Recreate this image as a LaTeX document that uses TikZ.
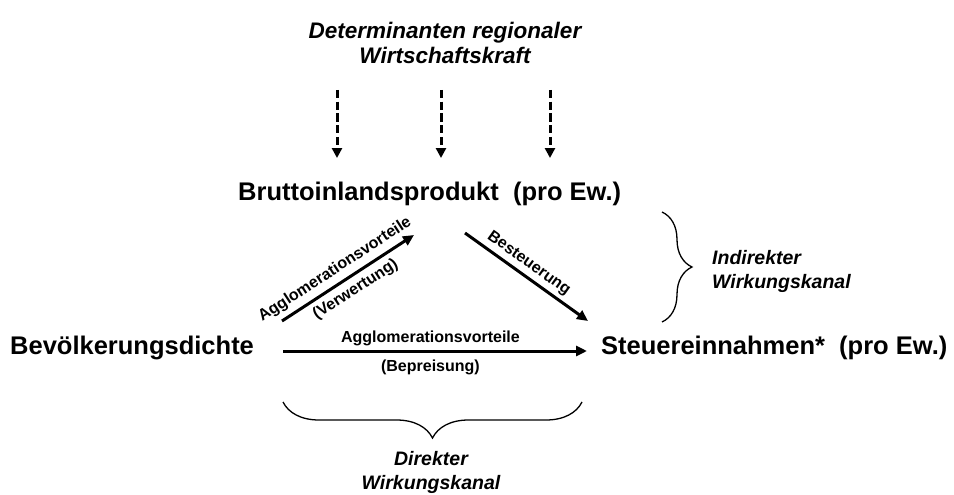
\documentclass[tikz,border=0pt]{standalone}
\usepackage{fontspec}
\setmainfont{Liberation Sans}
\usetikzlibrary{arrows.meta,decorations.pathreplacing}
\begin{document}
\begin{tikzpicture}[x=1pt,y=-1pt,
  big/.style={font=\fontsize{25.5}{30}\selectfont\bfseries, inner sep=0pt},
  lbl/.style={font=\fontsize{16}{19}\selectfont\bfseries, inner sep=0pt},
  ital/.style={font=\fontsize{19.5}{24}\selectfont\bfseries\itshape, inner sep=0pt},
  ttl/.style={font=\fontsize{22.5}{25}\selectfont\bfseries\itshape, inner sep=0pt},
  arr/.style={line width=3pt, -{Triangle[length=11pt,width=10pt]}},
  darr/.style={line width=3pt, dash pattern=on 8.3pt off 3.4pt, -{Triangle[length=10pt,width=10pt]}},
  brc/.style={line width=1.3pt, decorate, decoration={brace, amplitude=#1}}]
\useasboundingbox (0,0) rectangle (954,495);

% texts
\node[ttl, anchor=north, align=center] (title) at (445,22) {Determinanten regionaler\\Wirtschaftskraft};
\node[big, anchor=base west] (bip) at (238,200) {Bruttoinlandsprodukt\ \ (pro Ew.)};
\node[big, anchor=base west] (bev) at (10,354) {Bevölkerungsdichte};
\node[big, anchor=base west] (st) at (601,354) {Steuereinnahmen*\ \ (pro Ew.)};
\node[ital, anchor=north west, align=left] (ind) at (712,250) {Indirekter\\Wirkungskanal};
\node[ital, anchor=north, align=center] (dir) at (431,451) {Direkter\\Wirkungskanal};

% dashed arrows
\coordinate (d1s) at (337,90);  \coordinate (d1e) at (337,158);
\coordinate (d2s) at (441,90);  \coordinate (d2e) at (441,158);
\coordinate (d3s) at (550,90);  \coordinate (d3e) at (550,158);
\draw[darr] (d1s) -- (d1e);
\draw[darr] (d2s) -- (d2e);
\draw[darr] (d3s) -- (d3e);

% main arrows
\coordinate (a1s) at (282,321); \coordinate (a1e) at (414,235);
\coordinate (a2s) at (465,233); \coordinate (a2e) at (588,321);
\coordinate (hs) at (283,351);  \coordinate (he) at (587,351);

\draw[arr] (a1s) -- (a1e)
  node[lbl, pos=0.46, sloped, above=5pt] (l1) {Agglomerationsvorteile}
  node[lbl, pos=0.5, sloped, below=5pt] (l2) {(Verwertung)};
\draw[arr] (a2s) -- (a2e)
  node[lbl, pos=0.46, sloped, above=3.5pt] (l3) {Besteuerung};
\draw[arr] (hs) -- (he)
  node[lbl, pos=0.485, above=4pt] (l4) {Agglomerationsvorteile}
  node[lbl, pos=0.485, below=7pt] (l5) {(Bepreisung)};

% braces
\coordinate (b1s) at (662,212); \coordinate (b1e) at (662,322);
\draw[brc=30pt] (b1s) -- (b1e);
\coordinate (b2s) at (582,402); \coordinate (b2e) at (283,402);
\draw[brc=36pt] (b2s) -- (b2e);
\end{tikzpicture}
\end{document}
